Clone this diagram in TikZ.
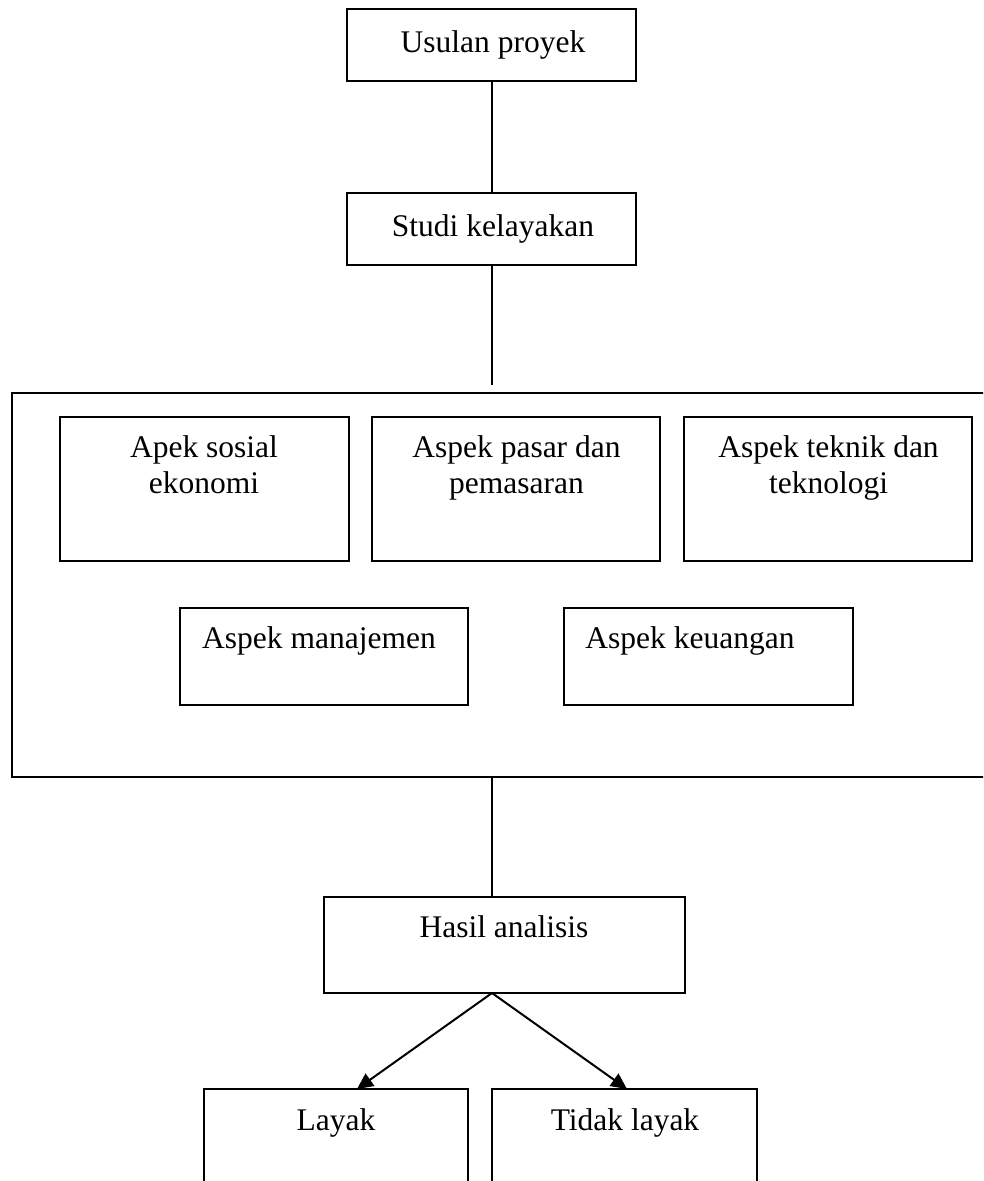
\documentclass[tikz,border=0pt]{standalone}
\usepackage{fontspec}
\setmainfont{Liberation Serif}
\usetikzlibrary{arrows.meta}
\begin{document}
\begin{tikzpicture}[x=1pt,y=-1pt,
  box/.style={draw,line width=2.2pt,inner sep=0pt,outer sep=0pt},
  lbl/.style={font=\fontsize{31.5}{36}\selectfont,align=center,inner sep=0pt,anchor=base},
  conn/.style={line width=2pt},
  arr/.style={line width=2pt,-{Triangle[length=16pt,width=15pt]}}]
\useasboundingbox (0,0) rectangle (983,1181);
\clip (0,0) rectangle (983,1181);
% boxes
\node[box,minimum width=289pt,minimum height=72pt] (usulan) at (491.5,45) {};
\node[box,minimum width=289pt,minimum height=72pt] (studi) at (491.5,229) {};
\node[box,minimum width=990pt,minimum height=384pt] (big) at (507,585) {};
\node[box,minimum width=289pt,minimum height=144pt] (sosial) at (204.5,489) {};
\node[box,minimum width=288pt,minimum height=144pt] (pasar) at (516,489) {};
\node[box,minimum width=288pt,minimum height=144pt] (teknik) at (828,489) {};
\node[box,minimum width=288pt,minimum height=97pt] (manaj) at (324,656.5) {};
\node[box,minimum width=289pt,minimum height=97pt] (keu) at (708.5,656.5) {};
\node[box,minimum width=361pt,minimum height=96pt] (hasil) at (504.5,945) {};
\node[box,minimum width=264pt,minimum height=130pt] (layak) at (336,1154) {};
\node[box,minimum width=265pt,minimum height=130pt] (tidak) at (624.5,1154) {};
% texts
\node[lbl] (tusulan) at (493,52) {Usulan proyek};
\node[lbl] (tstudi) at (493,236) {Studi kelayakan};
\node[lbl] (tsosial) at (204,493) {Apek sosial\\ekonomi};
\node[lbl] (tpasar) at (516.5,493) {Aspek pasar dan\\pemasaran};
\node[lbl] (tteknik) at (828.5,493) {Aspek teknik dan\\teknologi};
\node[lbl] (tmanaj) at (319,648) {Aspek manajemen};
\node[lbl] (tkeu) at (690,648) {Aspek keuangan};
\node[lbl] (thasil) at (504,937) {Hasil analisis};
\node[lbl] (tlayak) at (336,1130) {Layak};
\node[lbl] (ttidak) at (625,1130) {Tidak layak};
% connector points
\coordinate (studiend) at (491.5,385);
\coordinate (bigout) at (492,777);
\coordinate (hasilin) at (492,897);
\coordinate (hasilout) at (492,993);
\coordinate (layakin) at (357,1089);
\coordinate (tidakin) at (627,1089);
% connectors
\draw[conn] (usulan.south) -- (studi.north);
\draw[conn] (studi.south) -- (studiend);
\draw[conn] (bigout) -- (hasilin);
\draw[arr] (hasilout) -- (layakin);
\draw[arr] (hasilout) -- (tidakin);
\end{tikzpicture}
\end{document}
